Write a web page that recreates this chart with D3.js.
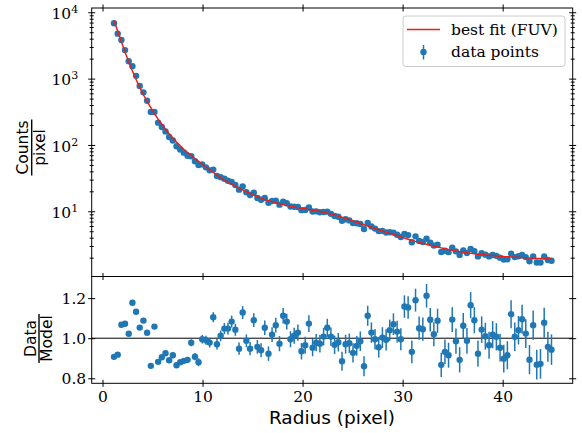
<!DOCTYPE html>
<html>
<head>
<meta charset="utf-8">
<script src="https://cdn.jsdelivr.net/npm/d3@7"></script>
<style>
  html, body { margin: 0; padding: 0; background: #fff; }
  svg { display: block; }
</style>
</head>
<body>
<svg id="chart" width="582" height="433"></svg>
<script>
// radial profile
const radius = [1.15,1.52,1.89,2.25,2.62,2.99,3.36,3.72,4.09,4.46,4.83,5.19,5.56,5.93,6.30,6.66,7.03,7.40,7.77,8.13,
  8.50,8.87,9.24,9.60,9.97,10.34,10.71,11.07,11.44,11.81,12.18,12.54,12.91,13.28,13.65,14.01,14.38,14.75,15.12,15.48,
  15.85,16.22,16.59,16.95,17.32,17.69,18.06,18.42,18.79,19.16,19.53,19.89,20.26,20.63,21.00,21.36,21.73,22.10,22.47,22.83,
  23.20,23.57,23.94,24.30,24.67,25.04,25.41,25.77,26.14,26.51,26.88,27.24,27.61,27.98,28.35,28.71,29.08,29.45,29.82,30.18,
  30.55,30.92,31.29,31.65,32.02,32.39,32.76,33.12,33.49,33.86,34.23,34.59,34.96,35.33,35.70,36.06,36.43,36.80,37.17,37.53,
  37.90,38.27,38.64,39.00,39.37,39.74,40.11,40.47,40.84,41.21,41.58,41.94,42.31,42.68,43.05,43.41,43.78,44.15,44.52,44.88];

const counts = [6820,4760,3820,2690,1830,1540,1100,775,621,464,314,314,217,186,160,132,117,95.8,85.6,76.5,
  68.8,67.7,56.8,49.7,50.9,46.0,41.4,42.5,34.1,32.7,31.0,28.8,27.7,24.9,21.2,23.7,19.4,17.6,19.1,15.9,
  14.9,15.9,13.4,14.3,14.4,12.6,14.0,13.2,11.8,11.7,11.6,10.4,10.5,11.4,9.91,9.98,9.66,9.74,9.87,9.15,
  8.48,8.28,7.20,7.57,7.29,6.64,6.59,6.46,5.40,6.68,5.91,5.48,5.03,5.07,4.80,4.84,4.77,4.42,4.09,4.57,
  4.38,3.41,4.19,3.57,3.44,3.85,3.36,3.04,3.14,2.44,2.54,2.42,2.83,2.49,2.20,2.57,2.35,2.71,2.51,2.09,
  2.33,2.22,2.09,2.19,2.13,2.00,1.87,1.89,2.30,2.04,2.10,2.19,2.04,1.77,2.09,1.69,1.69,2.08,1.84,1.80];

const bestFit = [7520,5180,3580,2510,1795,1306,970,736,571,452,364,297,245.5,205,173.4,147.9,127.4,110.7,97.3,86.3,
  77.1,69.3,62.5,56.5,51.2,46.5,42.3,38.5,35.2,32.3,29.6,27.5,25.6,23.9,22.4,21.0,19.7,18.6,17.5,16.6,
  15.8,15.1,14.5,14.0,13.5,13.0,12.6,12.2,11.9,11.6,11.3,11.1,10.9,10.6,10.4,10.2,9.93,9.66,9.38,9.08,
  8.77,8.45,8.13,7.80,7.48,7.16,6.85,6.56,6.28,6.01,5.75,5.51,5.27,5.05,4.84,4.65,4.46,4.28,4.11,3.95,
  3.80,3.66,3.52,3.40,3.29,3.18,3.08,2.98,2.89,2.81,2.73,2.65,2.59,2.53,2.47,2.42,2.38,2.33,2.30,2.26,
  2.23,2.20,2.17,2.15,2.12,2.10,2.08,2.07,2.05,2.03,2.02,2.00,1.99,1.98,1.96,1.95,1.94,1.93,1.92,1.91];

const ratio = [0.907,0.918,1.067,1.072,1.022,1.177,1.132,1.053,1.088,1.027,0.862,1.058,0.882,0.905,0.925,0.890,0.915,0.865,0.880,0.887,
  0.892,0.977,0.908,0.880,0.995,0.990,0.978,1.105,0.970,1.012,1.048,1.048,1.083,1.042,0.948,1.128,0.987,0.948,1.090,0.957,
  0.940,1.052,0.923,1.018,1.065,0.973,1.112,1.083,0.995,1.012,1.028,0.935,0.965,1.073,0.953,0.978,0.973,1.008,1.052,1.008,
  0.967,0.980,0.885,0.970,0.975,0.927,0.962,0.985,0.860,1.112,1.028,0.995,0.955,1.003,0.992,1.040,1.070,1.033,0.995,1.158,
  1.153,0.932,1.190,1.050,1.045,1.212,1.092,1.020,1.087,0.867,0.932,0.915,1.093,0.985,0.892,1.062,0.987,1.165,1.090,0.923,
  1.043,1.010,0.965,1.018,1.007,0.953,0.898,0.915,1.120,1.007,1.040,1.095,1.023,0.893,1.065,0.868,0.872,1.077,0.957,0.943];

const ratioErr = [0.004,0.004,0.005,0.005,0.005,0.006,0.006,0.006,0.007,0.007,0.008,0.008,0.009,0.009,0.010,0.010,0.011,0.012,0.013,0.014,
  0.015,0.017,0.018,0.020,0.021,0.022,0.024,0.025,0.026,0.027,0.028,0.029,0.030,0.030,0.031,0.032,0.032,0.033,0.034,0.034,
  0.035,0.036,0.036,0.037,0.037,0.038,0.039,0.039,0.040,0.040,0.041,0.041,0.042,0.042,0.043,0.043,0.044,0.044,0.045,0.045,
  0.046,0.046,0.047,0.047,0.048,0.048,0.049,0.049,0.050,0.050,0.051,0.051,0.052,0.052,0.053,0.053,0.054,0.054,0.055,0.056,
  0.056,0.057,0.057,0.058,0.058,0.059,0.059,0.060,0.060,0.061,0.061,0.062,0.062,0.063,0.063,0.064,0.064,0.065,0.065,0.066,
  0.066,0.067,0.067,0.068,0.068,0.069,0.069,0.070,0.070,0.071,0.071,0.072,0.072,0.073,0.073,0.074,0.074,0.075,0.075,0.076];

const xTicks = [0, 10, 20, 30, 40];
const upperTicks = [10, 100, 1000, 10000];
const upperTickExp = ["1", "2", "3", "4"];
const lowerTicks = [0.8, 1.0, 1.2];
const legendLabels = ["best fit (FUV)", "data points"];

const blue = "#1f77b4";
const red = "#e8201c";
const serif = "'DejaVu Serif', serif";
const sans = "'DejaVu Sans', sans-serif";

const svg = d3.select("#chart");
svg.append("rect").attr("width", 582).attr("height", 433).attr("fill", "#fff");

const left = 91.7, right = 572.7;
const upY0 = 8, upY1 = 276.5, lowY1 = 383.3;

const x = d3.scaleLinear().domain([-1.08, 47.0]).range([left, right]);
const yUp = d3.scaleLog().domain([1.04, 11600]).range([upY1, upY0]);
const yLow = d3.scaleLinear().domain([0.775, 1.308]).range([lowY1, upY1]);

// minor log ticks (2..9 per decade)
const minor = [];
for (let k = 0; k < 4; k++) for (let m = 2; m <= 9; m++) minor.push(m * Math.pow(10, k));

function inout(g, dir, len) {
  // ticks that cross the spine, like matplotlib direction="inout"
  g.selectAll(".tick line").attr(dir, len);
  g.select(".domain").remove();
}

// ---------- upper panel ----------
const upper = svg.append("g");

upper.selectAll(".eb").data(radius).enter().append("line")
  .attr("x1", d => x(d)).attr("x2", d => x(d))
  .attr("y1", (d, i) => yUp(counts[i] * (1 - ratioErr[i] / ratio[i])))
  .attr("y2", (d, i) => yUp(counts[i] * (1 + ratioErr[i] / ratio[i])))
  .attr("stroke", blue).attr("stroke-width", 1.5);
upper.selectAll(".pt").data(radius).enter().append("circle")
  .attr("cx", d => x(d)).attr("cy", (d, i) => yUp(counts[i]))
  .attr("r", 3.2).attr("fill", blue);

const fitLine = d3.line().x((d, i) => x(radius[i])).y(d => yUp(d));
upper.append("path").datum(bestFit).attr("d", fitLine)
  .attr("fill", "none").attr("stroke", red).attr("stroke-width", 1.5);

const yl = upper.append("g").attr("transform", `translate(${left},0)`)
  .call(d3.axisLeft(yUp).tickValues(upperTicks).tickSize(3.5).tickPadding(2).tickFormat(() => "10"));
inout(yl, "x1", 3.5);
yl.selectAll("text").attr("font-family", serif).attr("font-size", 15.5).attr("fill", "#000")
  .attr("dy", "0.4em").attr("dx", -8)
  .append("tspan").attr("font-size", 11).attr("dy", -6).text((d, i) => upperTickExp[i]);

const ylm = upper.append("g").attr("transform", `translate(${left},0)`)
  .call(d3.axisLeft(yUp).tickValues(minor).tickSize(2).tickFormat(""));
inout(ylm, "x1", 2);

const yr = upper.append("g").attr("transform", `translate(${right},0)`)
  .call(d3.axisRight(yUp).tickValues(upperTicks).tickSize(3.5).tickFormat(""));
inout(yr, "x1", -3.5);
const yrm = upper.append("g").attr("transform", `translate(${right},0)`)
  .call(d3.axisRight(yUp).tickValues(minor).tickSize(2).tickFormat(""));
inout(yrm, "x1", -2);

const xt = upper.append("g").attr("transform", `translate(0,${upY0})`)
  .call(d3.axisTop(x).tickValues(xTicks).tickSize(3.5).tickFormat(""));
inout(xt, "y1", 3.5);
const xm = upper.append("g").attr("transform", `translate(0,${upY1})`)
  .call(d3.axisBottom(x).tickValues(xTicks).tickSize(3.5).tickFormat(""));
inout(xm, "y1", -3.5);

// ---------- lower panel ----------
const lower = svg.append("g");
lower.append("line").attr("x1", left).attr("x2", right)
  .attr("y1", yLow(1)).attr("y2", yLow(1)).attr("stroke", "#000").attr("stroke-width", 1);

lower.selectAll(".eb").data(radius).enter().append("line")
  .attr("x1", d => x(d)).attr("x2", d => x(d))
  .attr("y1", (d, i) => yLow(ratio[i] - ratioErr[i]))
  .attr("y2", (d, i) => yLow(ratio[i] + ratioErr[i]))
  .attr("stroke", blue).attr("stroke-width", 1.5);
lower.selectAll(".pt").data(radius).enter().append("circle")
  .attr("cx", d => x(d)).attr("cy", (d, i) => yLow(ratio[i]))
  .attr("r", 3.2).attr("fill", blue);

const bl = lower.append("g").attr("transform", `translate(${left},0)`)
  .call(d3.axisLeft(yLow).tickValues(lowerTicks).tickSize(3.5).tickPadding(2).tickFormat(d3.format(".1f")));
inout(bl, "x1", 3.5);
bl.selectAll("text").attr("font-family", serif).attr("font-size", 15.5).attr("fill", "#000");

const br = lower.append("g").attr("transform", `translate(${right},0)`)
  .call(d3.axisRight(yLow).tickValues(lowerTicks).tickSize(3.5).tickFormat(""));
inout(br, "x1", -3.5);

const bx = lower.append("g").attr("transform", `translate(0,${lowY1})`)
  .call(d3.axisBottom(x).tickValues(xTicks).tickSize(3.5).tickPadding(4.5).tickFormat(d3.format("d")));
inout(bx, "y1", -3.5);
bx.selectAll("text").attr("font-family", serif).attr("font-size", 15.5).attr("fill", "#000");

// spines
[[upY0, upY1], [upY1, lowY1]].forEach(([a, b]) => {
  svg.append("rect").attr("x", left).attr("y", a).attr("width", right - left).attr("height", b - a)
    .attr("fill", "none").attr("stroke", "#000").attr("stroke-width", 1);
});

// ---------- labels ----------
svg.append("text").attr("x", 332).attr("y", 423.5).attr("text-anchor", "middle")
  .attr("font-family", sans).attr("font-size", 18.5).text("Radius (pixel)");

function fracLabel(cx, cy, num, den, barLen) {
  const g = svg.append("g").attr("transform", `translate(${cx},${cy}) rotate(-90)`)
    .attr("font-family", sans).attr("font-size", 15.5).attr("text-anchor", "middle");
  g.append("text").attr("x", 0).attr("y", -3.4).text(num);
  g.append("line").attr("x1", -barLen / 2).attr("x2", barLen / 2).attr("y1", 0).attr("y2", 0)
    .attr("stroke", "#000").attr("stroke-width", 1.4);
  g.append("text").attr("x", 0).attr("y", 13).text(den);
}
fracLabel(31.7, 147.5, "Counts", "pixel", 56);
fracLabel(39, 338.5, "Data", "Model", 49);

// ---------- legend ----------
const lg = svg.append("g");
lg.append("rect").attr("x", 403).attr("y", 16).attr("width", 162).attr("height", 50.5).attr("rx", 3)
  .attr("fill", "#fff").attr("fill-opacity", 0.8).attr("stroke", "#cccccc").attr("stroke-width", 1);
lg.append("line").attr("x1", 407).attr("x2", 440).attr("y1", 29.5).attr("y2", 29.5)
  .attr("stroke", red).attr("stroke-width", 1.5);
lg.append("line").attr("x1", 423.5).attr("x2", 423.5).attr("y1", 45).attr("y2", 59.5)
  .attr("stroke", blue).attr("stroke-width", 1.5);
lg.append("circle").attr("cx", 423.5).attr("cy", 52).attr("r", 3.2).attr("fill", blue);
lg.selectAll(".lt").data(legendLabels).enter().append("text")
  .attr("x", 451).attr("y", (d, i) => 35 + i * 22)
  .attr("font-family", serif).attr("font-size", 15.5).text(d => d);
</script>
</body>
</html>
